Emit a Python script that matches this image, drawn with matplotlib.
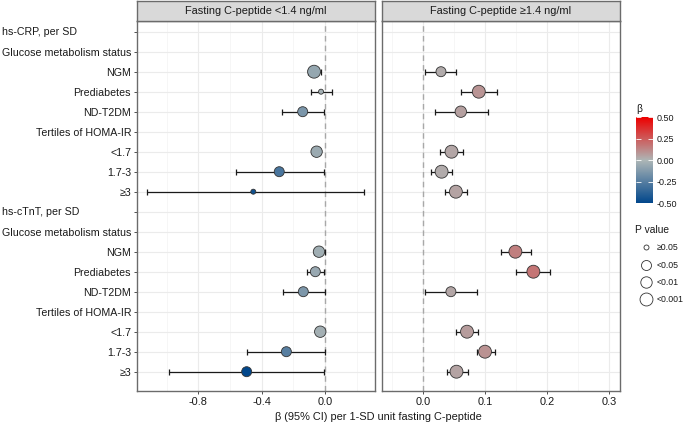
import numpy as np
import matplotlib
matplotlib.use("Agg")
import matplotlib.pyplot as plt
import matplotlib.transforms as mtransforms
from matplotlib.colors import LinearSegmentedColormap, Normalize
from matplotlib.lines import Line2D

plt.rcParams['font.family'] = ['Liberation Sans', 'DejaVu Sans']

# ---------------- data ----------------
row_labels = ["hs-CRP, per SD", "Glucose metabolism status", "NGM", "Prediabetes", "ND-T2DM",
              "Tertiles of HOMA-IR", "<1.7", "1.7-3", "≥3",
              "hs-cTnT, per SD", "Glucose metabolism status", "NGM", "Prediabetes", "ND-T2DM",
              "Tertiles of HOMA-IR", "<1.7", "1.7-3", "≥3"]
header_labels = ["hs-CRP, per SD", "hs-cTnT, per SD"]

panel_titles = ["Fasting C-peptide <1.4 ng/ml", "Fasting C-peptide ≥1.4 ng/ml"]

nan = np.nan
beta_low = [nan, nan, -0.069, -0.025, -0.141, nan, -0.053, -0.289, -0.453,
            nan, nan, -0.038, -0.061, -0.137, nan, -0.030, -0.244, -0.495]
lo_low = [nan, nan, -0.110, -0.090, -0.274, nan, -0.072, -0.564, -1.126,
          nan, nan, -0.069, -0.116, -0.267, nan, -0.048, -0.491, -0.983]
hi_low = [nan, nan, -0.027, 0.042, -0.004, nan, -0.034, -0.008, 0.248,
          nan, nan, 0.000, -0.004, -0.002, nan, -0.012, -0.002, -0.006]
p_low = [None, None, "<0.001", "≥0.05", "<0.05", None, "<0.01", "<0.05", "≥0.05",
         None, None, "<0.01", "<0.05", "<0.05", None, "<0.01", "<0.05", "<0.05"]

beta_high = [nan, nan, 0.029, 0.090, 0.061, nan, 0.046, 0.030, 0.053,
             nan, nan, 0.149, 0.178, 0.045, nan, 0.071, 0.100, 0.054]
lo_high = [nan, nan, 0.004, 0.061, 0.020, nan, 0.028, 0.013, 0.036,
           nan, nan, 0.125, 0.150, 0.004, nan, 0.053, 0.087, 0.038]
hi_high = [nan, nan, 0.053, 0.119, 0.105, nan, 0.065, 0.046, 0.071,
           nan, nan, 0.174, 0.205, 0.087, nan, 0.089, 0.116, 0.073]
p_high = [None, None, "<0.05", "<0.001", "<0.01", None, "<0.001", "<0.001", "<0.001",
          None, None, "<0.001", "<0.001", "<0.05", None, "<0.001", "<0.001", "<0.001"]

p_levels = ["≥0.05", "<0.05", "<0.01", "<0.001"]
beta_ticks = [0.50, 0.25, 0.00, -0.25, -0.50]

# ---------------- style ----------------
W, H = 685, 425
marker_pt = {"≥0.05": 3.6, "<0.05": 7.2, "<0.01": 8.2, "<0.001": 9.3}
FS = 7.9
FSY = 7.7
TXT = "#1a1a1a"

cmap = LinearSegmentedColormap.from_list("beta", ["#00468B", "#ADB6B6", "#ED0000"], N=256)
norm = Normalize(-0.5, 0.5)

fig = plt.figure(figsize=(W / 100, H / 100), dpi=100)


def fx(px):
    return px / W


def fy(py):
    return (H - py) / H


panel_top, panel_bot = 20.7, 390.7
panels_px = [(137.3, 375.0), (381.7, 620.0)]
xlims = [(-1.186, 0.316), (-0.0666, 0.3177)]
majors = [[-0.8, -0.4, 0.0], [0.0, 0.1, 0.2, 0.3]]
minors = [[-1.0, -0.6, -0.2, 0.2], [-0.05, 0.05, 0.15, 0.25]]
datasets = [(beta_low, lo_low, hi_low, p_low), (beta_high, lo_high, hi_high, p_high)]

y = np.arange(len(row_labels))
sc = None
axes = []
for k, ((x0, x1), xl) in enumerate(zip(panels_px, xlims)):
    ax = fig.add_axes([fx(x0), fy(panel_bot), (x1 - x0) / W, (panel_bot - panel_top) / H])
    axes.append(ax)
    ax.set_xlim(*xl)
    ax.set_ylim(len(row_labels) - 1 + 0.95, -0.55)
    ax.set_xticks(majors[k])
    ax.set_xticklabels([f"{v:.1f}" for v in majors[k]], fontsize=FS, color=TXT)
    ax.set_xticks(minors[k], minor=True)
    ax.tick_params(axis="x", which="minor", length=0)
    ax.tick_params(axis="x", which="major", length=2.5, width=0.6, color="#333333", pad=2.0)
    ax.set_yticks(y)
    if k == 0:
        labs = ["" if l in header_labels else l for l in row_labels]
        ax.set_yticklabels(labs, fontsize=FSY, color=TXT)
        ax.tick_params(axis="y", length=2.5, width=0.6, color="#333333", pad=2.0)
    else:
        ax.set_yticklabels([])
        ax.tick_params(axis="y", length=0)
    ax.grid(True, which="major", color="#EBEBEB", lw=0.8, zorder=0)
    ax.grid(True, which="minor", axis="x", color="#F4F4F4", lw=0.55, zorder=0)
    ax.set_axisbelow(True)
    for sp in ax.spines.values():
        sp.set_color("#6b6b6b")
        sp.set_linewidth(1.0)
    ax.axvline(0, color="#A8A8A8", lw=1.0, ls=(0, (4, 3)), zorder=1)

    b = np.array(datasets[k][0], float)
    lo = np.array(datasets[k][1], float)
    hi = np.array(datasets[k][2], float)
    m = ~np.isnan(b)
    ax.errorbar(b[m], y[m], xerr=[b[m] - lo[m], hi[m] - b[m]], fmt="none",
                ecolor="#1a1a1a", elinewidth=0.9, capsize=2.0, capthick=0.9, zorder=2)
    sizes = [marker_pt[pp] ** 2 for pp, mm in zip(datasets[k][3], m) if mm]
    sc = ax.scatter(b[m], y[m], s=sizes, c=b[m], cmap=cmap, norm=norm,
                    edgecolors="#333333", linewidths=0.6, zorder=3)

    # strip
    sax = fig.add_axes([fx(x0), fy(panel_top), (x1 - x0) / W, (panel_top - 1.0) / H])
    sax.set_facecolor("#D9D9D9")
    sax.set_xticks([])
    sax.set_yticks([])
    for sp in sax.spines.values():
        sp.set_color("#6b6b6b")
        sp.set_linewidth(1.0)
    sax.text(0.5, 0.5, panel_titles[k], ha="center", va="center", fontsize=FS, color=TXT,
             transform=sax.transAxes)

# left-aligned header rows
tr = mtransforms.blended_transform_factory(fig.transFigure, axes[0].transData)
for i, l in enumerate(row_labels):
    if l in header_labels:
        fig.text(fx(1.5), i, l, transform=tr, ha="left", va="center", fontsize=FSY, color=TXT)

fig.text(fx(378.7), fy(417.3), "β (95% CI) per 1-SD unit fasting C-peptide",
         ha="center", va="center", fontsize=FS, color=TXT)

# colour bar
cax = fig.add_axes([fx(635.7), fy(203.3), 17.6 / W, 86.0 / H])
cb = fig.colorbar(sc, cax=cax)
cb.outline.set_visible(False)
cb.set_ticks(beta_ticks)
cb.set_ticklabels([f"{v:.2f}" for v in beta_ticks])
cax.tick_params(axis="y", direction="in", color="white", length=3.5, width=0.6,
                left=True, right=True, labelsize=6.5, labelcolor=TXT, pad=2.5)
fig.text(fx(636), fy(112), "β", ha="left", va="baseline", fontsize=7.4, color=TXT)

# size legend
handles = [Line2D([], [], ls="", marker="o", markersize=marker_pt[p],
                  markerfacecolor="white", markeredgecolor="#333333", markeredgewidth=0.6)
           for p in p_levels]
leg = fig.legend(handles, p_levels, title="P value", loc="upper left",
                 bbox_to_anchor=(fx(635.0), fy(225.0)), frameon=False, fontsize=6.3,
                 title_fontsize=7.4, handlelength=2.4, handletextpad=0.05,
                 labelspacing=0.95, borderpad=0, borderaxespad=0, alignment="left")
for t in leg.get_texts():
    t.set_color(TXT)
leg.get_title().set_color(TXT)

fig.savefig("out.png", dpi=100)
